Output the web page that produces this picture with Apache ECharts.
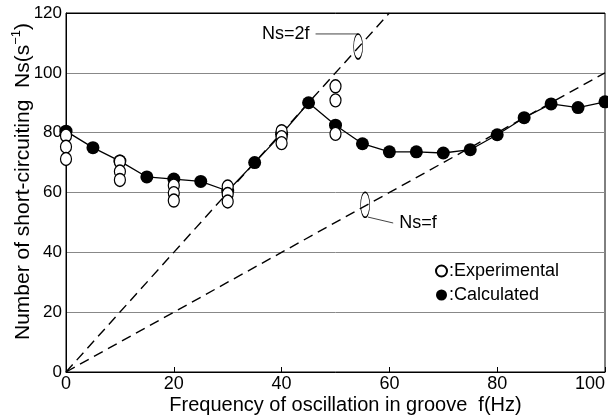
<!DOCTYPE html>
<html>
<head>
<meta charset="utf-8">
<script src="https://cdn.jsdelivr.net/npm/echarts@6/dist/echarts.min.js"></script>
<style>html,body{margin:0;padding:0;background:#fff}#c{width:608px;height:416px}</style>
</head>
<body>
<div id="c"></div>
<script>
// ---- data ----
var calcF = [0, 5, 10, 15, 20, 25, 30, 35, 40, 45, 50, 55, 60, 65, 70, 75, 80, 85, 90, 95, 100];
var calcNs = [80.5, 75, 70.5, 65.2, 64.5, 63.7, 60.5, 70, 79.5, 90, 82.5, 76.3, 73.6, 73.6, 73.2, 74.3, 79.3, 85, 89.6, 88.4, 90.3];
var expF = [0, 0, 0, 10, 10, 10, 20, 20, 20, 30, 30, 30, 40, 40, 40, 50, 50, 50];
var expNs = [79, 75.3, 71.2, 70.3, 67, 64.2, 62.3, 59.8, 57.3, 62, 59.5, 57, 80.5, 78.5, 76.5, 95.5, 90.8, 79.6];
var line2f = [[0, 0], [60, 120]];
var line1f = [[0, 0], [100, 100]];
var xTicks = [0, 20, 40, 60, 80, 100];
var yTicks = [0, 20, 40, 60, 80, 100, 120];
// annotation anchors (data coords)
var ellipses = [[54.2, 108.8], [55.5, 55.9]];
var leader2f = [[46.3, 113], [54.2, 113]];
var leader1f = [[56.0, 51.8], [60.7, 49.8]];
var labels = [{ value: [46.3, 113], text: 'Ns=2f', pos: 'left' }, { value: [60.7, 49.8], text: 'Ns=f', pos: 'right' }];

var FONT = 'Liberation Sans';
var chart = echarts.init(document.getElementById('c'), null, { renderer: 'canvas' });

function zip(a, b) { return a.map(function (v, i) { return [v, b[i]]; }); }

var option = {
  animation: false,
  backgroundColor: '#fff',
  textStyle: { fontFamily: FONT, color: '#000' },
  grid: { left: 66, right: 3, top: 13, bottom: 44, outerBoundsMode: 'none', containLabel: false,
    show: true, borderColor: '#000', borderWidth: 1, backgroundColor: 'transparent' },
  legend: {
    data: [{ name: 'Experimental', icon: 'circle' }, { name: 'Calculated', icon: 'circle' }],
    orient: 'vertical', left: 430, top: 257, itemWidth: 11, itemHeight: 11, itemGap: 6,
    formatter: function (n) { return ':' + n; },
    textStyle: { fontFamily: FONT, fontSize: 18, color: '#000', padding: [0, 0, 0, -3] }
  },
  xAxis: {
    type: 'value', min: 0, max: 100, interval: 20,
    name: 'Frequency of oscillation in groove  f(Hz)', nameLocation: 'middle', nameGap: 23, nameMoveOverlap: false,
    nameTextStyle: { fontFamily: FONT, fontSize: 20, color: '#000', padding: [0, 0, 0, 20] },
    axisLine: { lineStyle: { color: '#000', width: 1 } },
    axisTick: { show: true, inside: true, length: 5, lineStyle: { color: '#000' } },
    axisLabel: { fontFamily: FONT, fontSize: 18, color: '#000', margin: 3, alignMaxLabel: 'right',
      formatter: function (v) { return xTicks.indexOf(v) >= 0 ? String(v) : ''; } },
    splitLine: { show: false }
  },
  yAxis: {
    type: 'value', min: 0, max: 120, interval: 20,
    name: '{a|Number of short-circuiting  Ns(s}{b|−1}{a|)}', nameLocation: 'middle', nameGap: 32, nameMoveOverlap: false,
    nameTextStyle: { padding: [0, 0, 0, 22],
      rich: { a: { fontFamily: FONT, fontSize: 21, color: '#000', lineHeight: 24, verticalAlign: 'bottom' },
              b: { fontFamily: FONT, fontSize: 13, color: '#000', lineHeight: 24, verticalAlign: 'top' } } },
    axisLine: { lineStyle: { color: '#000', width: 1 } },
    axisTick: { show: false },
    axisLabel: { fontFamily: FONT, fontSize: 17, color: '#000', margin: 4,
      formatter: function (v) { return yTicks.indexOf(v) >= 0 ? String(v) : ''; } },
    splitLine: { show: true, lineStyle: { color: ['#888', '#888', '#888', '#888', '#888', '#888', '#000'], width: 1 } }
  },
  series: [
    { type: 'line', data: line2f, symbol: 'none', silent: true, z: 1,
      lineStyle: { color: '#000', width: 1.4, type: [10, 6] } },
    { type: 'line', data: line1f, symbol: 'none', silent: true, z: 1,
      lineStyle: { color: '#000', width: 1.4, type: [10, 6] } },
    { type: 'line', data: leader2f, symbol: 'none', silent: true, z: 1,
      lineStyle: { color: '#444', width: 1 } },
    { type: 'line', data: leader1f, symbol: 'none', silent: true, z: 1,
      lineStyle: { color: '#444', width: 1 } },
    { type: 'scatter', data: ellipses, symbol: 'circle', symbolSize: [9, 25], silent: true, z: 2,
      itemStyle: { color: 'rgba(0,0,0,0)', borderColor: '#000', borderWidth: 1, opacity: 1 } },
    { type: 'scatter', symbolSize: 0, silent: true, z: 3, itemStyle: { opacity: 1 },
      data: labels.map(function (l) {
        return { value: l.value, label: { show: true, position: l.pos, distance: 6, formatter: l.text,
          fontFamily: FONT, fontSize: 18, color: '#000' } };
      }) },
    { name: 'Calculated', type: 'line', data: zip(calcF, calcNs), symbol: 'circle', symbolSize: 13, z: 4,
      lineStyle: { color: '#000', width: 1.3 },
      itemStyle: { color: '#000', borderColor: '#000', borderWidth: 0 } },
    { name: 'Experimental', type: 'scatter', data: zip(expF, expNs), symbol: 'circle', symbolSize: [11, 13], z: 5,
      itemStyle: { color: '#fff', borderColor: '#000', borderWidth: 1.3, opacity: 1 } }
  ]
};
chart.setOption(option);
</script>
</body>
</html>
